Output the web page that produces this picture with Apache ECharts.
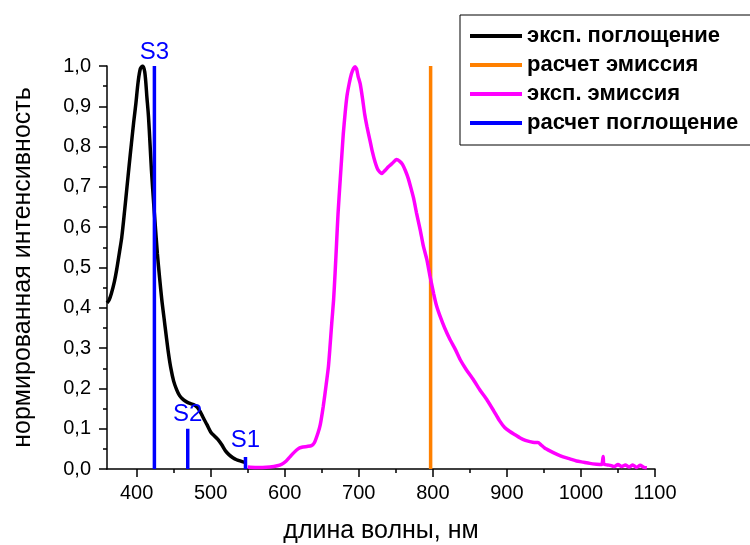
<!DOCTYPE html>
<html>
<head>
<meta charset="utf-8">
<script src="https://cdn.jsdelivr.net/npm/echarts@6/dist/echarts.min.js"></script>
<style>
  html, body { margin: 0; padding: 0; background: #fff; }
  #chart { width: 750px; height: 545px; }
</style>
</head>
<body>
<div id="chart"></div>
<script>
// ---- данные ----
const seriesNames = ['эксп. поглощение', 'расчет эмиссия', 'эксп. эмиссия', 'расчет поглощение'];

// экспериментальное поглощение (нм, норм. интенсивность)
const absX = [360, 363, 366, 370, 373, 377, 380, 384, 387, 390, 393, 396, 399, 402, 405, 408, 411, 414, 416, 418,
  420, 423, 425, 428, 431, 434, 437, 440, 443, 446, 450, 454, 458, 463, 468, 473, 478, 482, 486, 490,
  495, 500, 505, 510, 515, 520, 525, 530, 535, 540, 545, 547];
const absY = [0.412, 0.420, 0.436, 0.465, 0.494, 0.540, 0.576, 0.645, 0.700, 0.755, 0.808, 0.860, 0.907, 0.960, 0.993, 1.000, 0.985, 0.920, 0.875, 0.810,
  0.742, 0.660, 0.609, 0.535, 0.475, 0.420, 0.375, 0.330, 0.287, 0.252, 0.218, 0.197, 0.182, 0.172, 0.166, 0.162, 0.159, 0.153, 0.142, 0.127,
  0.110, 0.092, 0.082, 0.073, 0.060, 0.045, 0.035, 0.028, 0.023, 0.020, 0.017, 0.016];

// экспериментальная эмиссия
const emX = [550, 560, 570, 580, 590, 596, 602, 607, 612, 618, 623, 630, 636, 640, 645, 648, 652, 656, 659, 661,
  663.5, 666, 668, 670, 672, 675, 677, 679, 681.5, 684, 687, 690, 693, 695, 697, 699, 702, 705, 708, 711,
  715, 718, 722, 726, 731, 735, 740, 745, 751, 755, 759, 763, 767, 770, 774, 778, 783, 787, 792, 796,
  801, 805, 810, 816, 823, 830, 837, 845, 855, 864, 873, 882, 890, 897, 904, 911, 918, 925, 931, 937,
  942, 946, 951, 958, 967, 976, 985, 994, 1003, 1012, 1021, 1028, 1030, 1031, 1036, 1040, 1045, 1050, 1055, 1060,
  1065, 1070, 1075, 1080, 1085, 1089];
const emY = [0.005, 0.004, 0.004, 0.005, 0.008, 0.012, 0.020, 0.030, 0.040, 0.050, 0.054, 0.056, 0.058, 0.065, 0.090, 0.110, 0.155, 0.210, 0.254, 0.300,
  0.362, 0.420, 0.486, 0.560, 0.634, 0.720, 0.775, 0.830, 0.882, 0.925, 0.956, 0.980, 0.994, 0.998, 0.993, 0.975, 0.955, 0.920, 0.880, 0.850,
  0.816, 0.790, 0.762, 0.742, 0.733, 0.740, 0.750, 0.758, 0.768, 0.764, 0.756, 0.740, 0.720, 0.700, 0.672, 0.635, 0.593, 0.555, 0.519, 0.480,
  0.436, 0.405, 0.378, 0.350, 0.322, 0.298, 0.271, 0.247, 0.221, 0.195, 0.172, 0.145, 0.120, 0.103, 0.093, 0.085, 0.077, 0.071, 0.068, 0.066,
  0.066, 0.060, 0.052, 0.045, 0.037, 0.030, 0.025, 0.020, 0.017, 0.014, 0.012, 0.011, 0.031, 0.012, 0.010, 0.009, 0.006, 0.011, 0.006, 0.010,
  0.005, 0.010, 0.004, 0.009, 0.004, 0.003];

// расчетные переходы
const emCalcX = 797;
const emCalcY = 1.0;
const stickNames = ['S3', 'S2', 'S1'];
const stickX = [424, 469, 547];
const stickY = [1.0, 0.1, 0.03];

// подписи осей
const xMajorTicks = [400, 500, 600, 700, 800, 900, 1000, 1100];
const xMinorTicks = [450, 550, 650, 750, 850, 950, 1050];

// ---- сборка ----
const FONT = '"Liberation Sans", Arial, sans-serif';
const absData = absX.map((x, i) => [x, absY[i]]);
const emData = emX.map((x, i) => [x, emY[i]]);

const stickData = [];
stickX.forEach((x, i) => {
  stickData.push([x, 0]);
  stickData.push({
    value: [x, stickY[i]],
    label: {
      show: true,
      formatter: stickNames[i],
      position: 'top',
      distance: i === 2 ? 4 : 2,
      color: '#0000ff',
      fontSize: 24,
      fontFamily: FONT
    }
  });
  stickData.push([x, '-']);
});

const option = {
  backgroundColor: '#ffffff',
  animation: false,
  grid: { left: 107, right: 95, top: 66, bottom: 76, containLabel: false, outerBoundsMode: 'none' },
  legend: {
    orient: 'vertical',
    left: 460,
    top: 15,
    padding: [10, 40, 11, 10],
    itemGap: 7,
    borderColor: '#000',
    borderWidth: 1,
    icon: 'rect',
    itemWidth: 52,
    itemHeight: 4,
    data: seriesNames,
    textStyle: { fontSize: 22, fontWeight: 'bold', color: '#000', fontFamily: FONT, lineHeight: 22 }
  },
  xAxis: [
    {
      type: 'value',
      min: 360, max: 1100, interval: 100,
      name: 'длина волны, нм',
      nameLocation: 'middle',
      nameGap: 50,
      nameTextStyle: { fontSize: 25, color: '#000', fontFamily: FONT },
      axisLine: { onZero: false, lineStyle: { color: '#000', width: 1.5 } },
      axisTick: { customValues: xMajorTicks, length: 8, lineStyle: { color: '#000', width: 1.5 } },
      axisLabel: {
        customValues: xMajorTicks, margin: 14, fontSize: 20, color: '#000', fontFamily: FONT,
        formatter: v => String(v)
      },
      splitLine: { show: false }
    },
    {
      type: 'value',
      position: 'bottom',
      min: 360, max: 1100,
      axisLine: { show: false, onZero: false },
      axisTick: { customValues: xMinorTicks, length: 4, lineStyle: { color: '#000', width: 1.5 } },
      axisLabel: { show: false },
      splitLine: { show: false }
    }
  ],
  yAxis: {
    type: 'value',
    min: 0, max: 1, interval: 0.1,
    name: 'нормированная интенсивность',
    nameLocation: 'middle',
    nameGap: 71,
    nameTextStyle: { fontSize: 25, color: '#000', fontFamily: FONT },
    axisLine: { show: true, lineStyle: { color: '#000', width: 1.5 } },
    axisTick: { show: true, length: 8, lineStyle: { color: '#000', width: 1.5 } },
    minorTick: { show: true, splitNumber: 2, length: 4, lineStyle: { color: '#000', width: 1.5 } },
    axisLabel: {
      margin: 16, fontSize: 20, color: '#000', fontFamily: FONT,
      formatter: v => v.toFixed(1).replace('.', ',')
    },
    splitLine: { show: false }
  },
  series: [
    {
      name: seriesNames[0], type: 'line', showSymbol: false, smooth: 0.3,
      lineStyle: { color: '#000000', width: 3.5 }, itemStyle: { color: '#000000' },
      data: absData
    },
    {
      name: seriesNames[1], type: 'line', showSymbol: false,
      lineStyle: { color: '#ff8000', width: 3.5 }, itemStyle: { color: '#ff8000' },
      data: [[emCalcX, 0], [emCalcX, emCalcY]]
    },
    {
      name: seriesNames[2], type: 'line', showSymbol: false, smooth: 0.2,
      lineStyle: { color: '#ff00ff', width: 3.5 }, itemStyle: { color: '#ff00ff' },
      data: emData
    },
    {
      name: seriesNames[3], type: 'line', showSymbol: true, symbol: 'circle', symbolSize: 0.1,
      connectNulls: false,
      lineStyle: { color: '#0000ff', width: 3.5 }, itemStyle: { color: '#0000ff' },
      data: stickData
    }
  ]
};

const myChart = echarts.init(document.getElementById('chart'));
myChart.setOption(option);
</script>
</body>
</html>
